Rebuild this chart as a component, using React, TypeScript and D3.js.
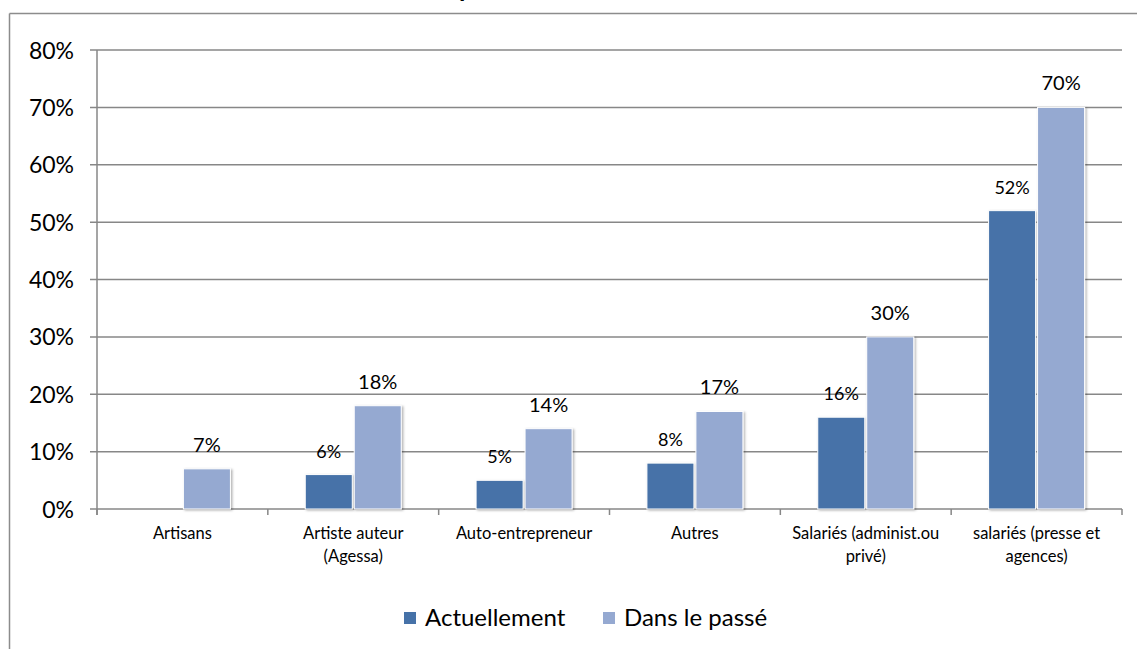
import React, { useEffect, useRef } from "react";
import * as d3 from "d3";

// catégories et valeurs
const categories = [
  ["Artisans"],
  ["Artiste auteur", "(Agessa)"],
  ["Auto-entrepreneur"],
  ["Autres"],
  ["Salariés (administ.ou", "privé)"],
  ["salariés (presse et", "agences)"],
];
const actuellement = [0, 0.06, 0.05, 0.08, 0.16, 0.52];
const dansLePasse = [0.07, 0.18, 0.14, 0.17, 0.3, 0.7];
const seriesNames = ["Actuellement", "Dans le passé"];
const yTicks = [0, 0.1, 0.2, 0.3, 0.4, 0.5, 0.6, 0.7, 0.8];

const W = 1137;
const H = 649;
const FONT = "Lato, 'Open Sans', sans-serif";
const COLORS = ["#4672A8", "#95A9D1"];
const GRID = "#878787";

const App = () => {
  const ref = useRef<SVGSVGElement | null>(null);

  useEffect(() => {
    const svg = d3.select(ref.current);
    svg.selectAll("*").remove();

    const defs = svg.append("defs");
    defs
      .append("filter")
      .attr("id", "shadow")
      .attr("x", "-10%")
      .attr("y", "-10%")
      .attr("width", "130%")
      .attr("height", "130%")
      .append("feDropShadow")
      .attr("dx", 1.5)
      .attr("dy", 1)
      .attr("stdDeviation", 1.2)
      .attr("flood-color", "#000")
      .attr("flood-opacity", 0.3);

    // cadre extérieur (coupé en haut et à droite)
    svg.append("line").attr("x1", 9.5).attr("x2", W).attr("y1", 13.5).attr("y2", 13.5)
      .attr("stroke", "#8c8c8c").attr("stroke-width", 1.5);
    svg.append("line").attr("x1", 9.5).attr("x2", 9.5).attr("y1", 13.5).attr("y2", H)
      .attr("stroke", "#8c8c8c").attr("stroke-width", 1.5);

    // reste du titre, coupé par le bord
    svg.append("text").attr("x", 459).attr("y", -3)
      .attr("font-family", FONT).attr("font-weight", "bold").attr("font-size", 26)
      .attr("fill", "#000").text("p");

    const left = 97;
    const right = 1122;
    const y = d3.scaleLinear().domain([0, 0.8]).range([509, 50]);
    const x = d3.scaleBand<number>().domain(d3.range(categories.length)).range([left, right]);
    const half = 48;
    const xs = d3
      .scaleBand<number>()
      .domain([0, 1])
      .range([x.bandwidth() / 2 - half, x.bandwidth() / 2 + half])
      .paddingInner(0.04);

    // grille
    svg.append("g").selectAll("line").data(yTicks).join("line")
      .attr("x1", left - 7).attr("x2", right)
      .attr("y1", (d) => y(d)).attr("y2", (d) => y(d))
      .attr("stroke", GRID).attr("stroke-width", 1.5);

    // axe vertical
    svg.append("line").attr("x1", left).attr("x2", left).attr("y1", y(0.8)).attr("y2", y(0) + 6)
      .attr("stroke", GRID).attr("stroke-width", 1.5);

    // graduations de l'axe horizontal
    svg.append("g").selectAll("line").data(d3.range(categories.length + 1)).join("line")
      .attr("x1", (i) => left + i * x.step()).attr("x2", (i) => left + i * x.step())
      .attr("y1", y(0)).attr("y2", y(0) + 6)
      .attr("stroke", GRID).attr("stroke-width", 1.5);

    // étiquettes axe y
    svg.append("g").selectAll("text").data(yTicks).join("text")
      .attr("x", 74).attr("y", (d) => y(d) + 8.5)
      .attr("text-anchor", "end").attr("font-family", FONT).attr("font-size", 23)
      .attr("fill", "#000").text((d) => d3.format(".0%")(d));

    // barres
    const series = [actuellement, dansLePasse];
    series.forEach((vals, s) => {
      const g = svg.append("g");
      const data = vals.map((v, i) => ({ v, i })).filter((d) => d.v > 0);
      g.selectAll("rect").data(data).join("rect")
        .attr("x", (d) => (x(d.i) as number) + (xs(s) as number))
        .attr("y", (d) => y(d.v))
        .attr("width", xs.bandwidth())
        .attr("height", (d) => y(0) - y(d.v))
        .attr("fill", COLORS[s])
        .attr("stroke", "#fff").attr("stroke-width", 1)
        .attr("filter", "url(#shadow)");
      g.selectAll("text").data(data).join("text")
        .attr("x", (d) => (x(d.i) as number) + (xs(s) as number) + xs.bandwidth() / 2)
        .attr("y", (d) => y(d.v) - 17)
        .attr("text-anchor", "middle").attr("font-family", FONT)
        .attr("font-size", s === 0 ? 18 : 20)
        .attr("fill", "#000").text((d) => d3.format(".0%")(d.v));
    });

    // étiquettes catégories
    const cat = svg.append("g").selectAll("text").data(categories).join("text")
      .attr("x", (_, i) => (x(i) as number) + x.bandwidth() / 2)
      .attr("y", 539)
      .attr("text-anchor", "middle").attr("font-family", FONT).attr("font-size", 16.5)
      .attr("fill", "#000");
    cat.selectAll("tspan").data((d) => d).join("tspan")
      .attr("x", function () {
        return (this.parentNode as SVGTextElement).getAttribute("x");
      })
      .attr("dy", (_, j) => (j === 0 ? 0 : 23))
      .text((d) => d);

    // légende
    const legendX = [404, 603];
    seriesNames.forEach((name, s) => {
      svg.append("rect").attr("x", legendX[s]).attr("y", 612).attr("width", 12).attr("height", 12)
        .attr("fill", COLORS[s]);
      svg.append("text").attr("x", legendX[s] + 21).attr("y", 625.5)
        .attr("font-family", FONT).attr("font-size", 24).attr("fill", "#000").text(name);
    });
  }, []);

  return (
    <svg
      ref={ref}
      width={W}
      height={H}
      style={{ position: "absolute", left: 0, top: 0, background: "#fff" }}
    />
  );
};

export default App;
